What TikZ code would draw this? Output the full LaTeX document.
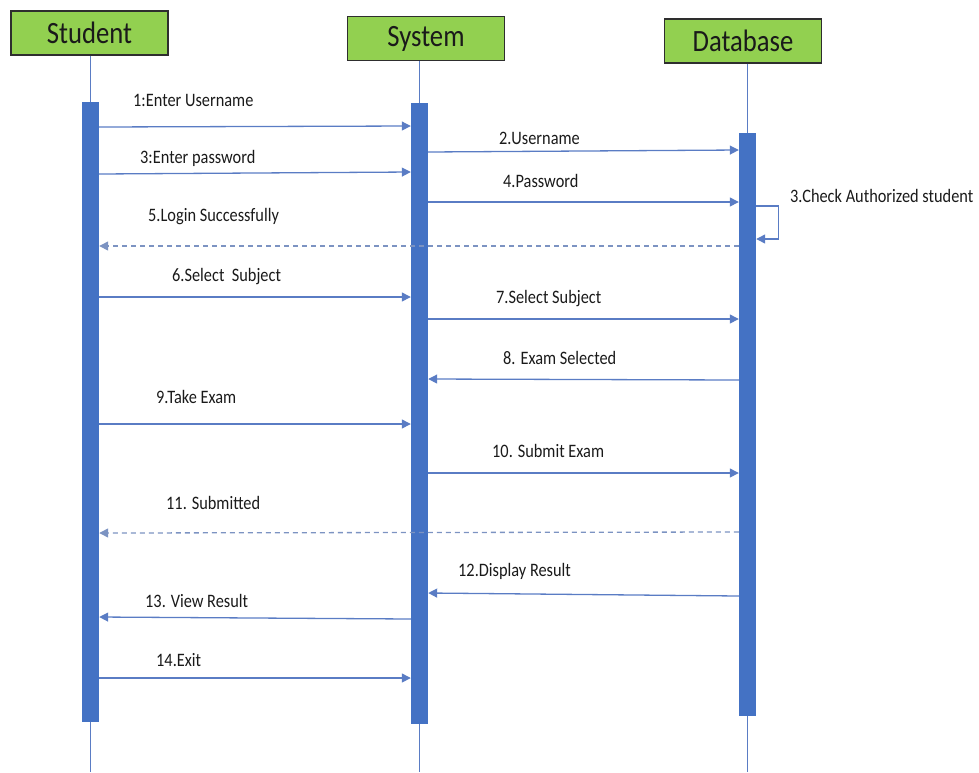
\documentclass[tikz,border=0pt]{standalone}
\usepackage{fontspec}
\setmainfont{Carlito}[FakeStretch=0.86]
\usepackage{xcolor}
\definecolor{actgreen}{HTML}{92D050}
\definecolor{actborder}{HTML}{2E2E2E}
\definecolor{barblue}{HTML}{4472C4}
\definecolor{msgblue}{HTML}{5A7CC4}
\definecolor{retblue}{HTML}{7C93C2}
\definecolor{textdark}{HTML}{1A1A1A}
\usepackage{tikz}
\usetikzlibrary{arrows.meta,positioning,calc}

\begin{document}
\begin{tikzpicture}[x=1pt, y=-1pt,
    actor/.style={draw=actborder, line width=1.3pt, fill=actgreen, text=textdark, minimum width=157pt, minimum height=44pt, inner sep=0pt, font=\fontsize{31}{33}\selectfont},
    bar/.style={fill=barblue, draw=none, minimum width=17pt, inner sep=0pt},
    life/.style={msgblue, line width=0.8pt},
    msg/.style={-{Triangle[length=9pt,width=9pt]}, msgblue, line width=1.3pt},
    ret/.style={msg, retblue, dash pattern=on 5pt off 4pt},
    lbl/.style={anchor=west, text=textdark, inner sep=0pt, font=\fontsize{19}{21}\selectfont}]
    \useasboundingbox (0,0) rectangle (979,772);
    % actors
    \node[actor] (student) at (89.5,33) {Student};
    \node[actor] (system) at (426,38.5) {System};
    \node[actor] (database) at (743,41) {Database};
    % activation bars
    \node[bar, minimum height=620pt] (sbar) at (90.5,412) {};
    \node[bar, minimum height=621pt] (ybar) at (419.5,413.5) {};
    \node[bar, minimum height=583pt] (dbar) at (747.5,424.5) {};
    % lifelines
    \draw[life] (student.south -| sbar) -- (sbar.north);
    \draw[life] (system.south -| ybar) -- (ybar.north);
    \draw[life] (database.south -| dbar) -- (dbar.north);
    \draw[life] (sbar.south) -- (sbar.south |- 0,772);
    \draw[life] (ybar.south) -- (ybar.south |- 0,772);
    \draw[life] (dbar.south) -- (dbar.south |- 0,772);
    % messages
    \draw[msg] (sbar.east |- 0,127) -- (ybar.west |- 0,126);
    \node[lbl] (m1) at (133,100) {1:Enter Username};
    \draw[msg] (ybar.east |- 0,152) -- (dbar.west |- 0,150);
    \node[lbl] (m2) at (499,138) {2.Username};
    \draw[msg] (sbar.east |- 0,174) -- (ybar.west |- 0,172);
    \node[lbl] (m3) at (140,158) {3:Enter password};
    \draw[msg] (ybar.east |- 0,202) -- (dbar.west |- 0,202);
    \node[lbl] (m4) at (503,181) {4.Password};
    \draw[msg] (dbar.east |- 0,206) -- ++(22,0) |- (dbar.east |- 0,239);
    \node[lbl] (chk) at (790,196) {3.Check Authorized student};
    \draw[ret] (dbar.west |- 0,246) -- (sbar.east |- 0,246);
    \node[lbl] (m5) at (148,217) {5.Login Successfully};
    \draw[msg] (sbar.east |- 0,297) -- (ybar.west |- 0,297);
    \node[lbl] (m6) at (172,277) {6.Select\ \ Subject};
    \draw[msg] (ybar.east |- 0,319) -- (dbar.west |- 0,319);
    \node[lbl] (m7) at (496,299) {7.Select Subject};
    \draw[msg] (dbar.west |- 0,380) -- (ybar.east |- 0,379);
    \node[lbl] (m8) at (503,358) {8. Exam Selected};
    \draw[msg] (sbar.east |- 0,424) -- (ybar.west |- 0,424);
    \node[lbl] (m9) at (156,397) {9.Take Exam};
    \draw[msg] (ybar.east |- 0,473) -- (dbar.west |- 0,473);
    \node[lbl] (m10) at (492,451) {10. Submit Exam};
    \draw[ret] (dbar.west |- 0,532) -- (sbar.east |- 0,533);
    \node[lbl] (m11) at (166,503) {11. Submitted};
    \draw[msg] (dbar.west |- 0,596) -- (ybar.east |- 0,593);
    \node[lbl] (m12) at (458,571) {12.Display Result};
    \draw[msg] (ybar.west |- 0,619) -- (sbar.east |- 0,617);
    \node[lbl] (m13) at (145,601) {13. View Result};
    \draw[msg] (sbar.east |- 0,678) -- (ybar.west |- 0,678);
    \node[lbl] (m14) at (156,660) {14.Exit};
\end{tikzpicture}
\end{document}
